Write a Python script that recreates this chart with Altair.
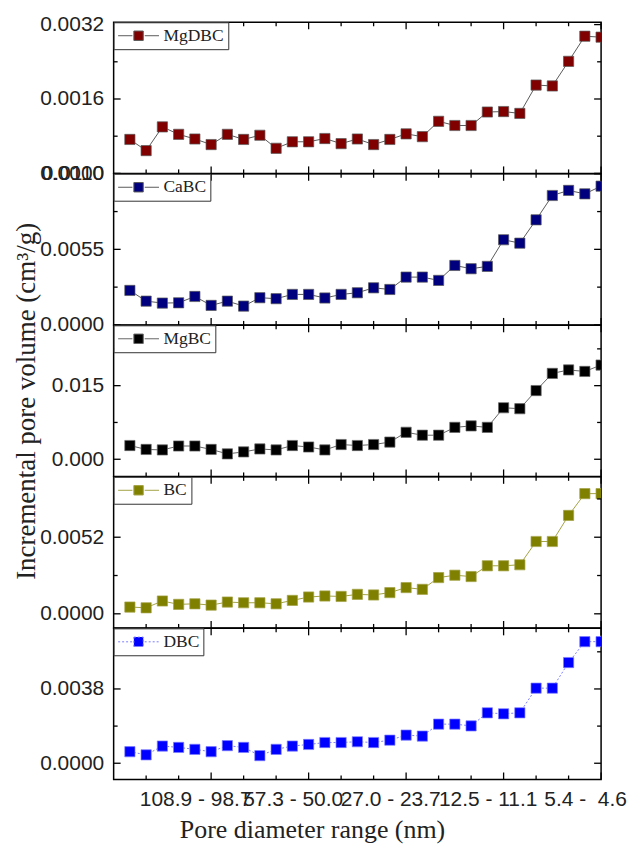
import altair as alt
import pandas as pd

# ---------------- data ----------------
x_index = list(range(1, 31))
samples = ["MgDBC", "CaBC", "MgBC", "BC", "DBC"]

mgdbc = [0.00073, 0.00049, 0.00100, 0.00084, 0.00074, 0.00062, 0.00084, 0.00073, 0.00082, 0.00054,
         0.00068, 0.00068, 0.00075, 0.00064, 0.00074, 0.00062, 0.00073, 0.00085, 0.00079, 0.00112,
         0.00103, 0.00103, 0.00132, 0.00133, 0.00129, 0.00190, 0.00188, 0.00241, 0.00295, 0.00293]
cabc = [0.00251, 0.00173, 0.00159, 0.00161, 0.00207, 0.00142, 0.00173, 0.00137, 0.00198, 0.00191,
        0.00222, 0.00222, 0.00196, 0.00222, 0.00234, 0.00270, 0.00258, 0.00348, 0.00348, 0.00324,
        0.00433, 0.00409, 0.00426, 0.00620, 0.00595, 0.00765, 0.00942, 0.00979, 0.00954, 0.01010]
mgbc = [0.0028, 0.0020, 0.0019, 0.0027, 0.0027, 0.0020, 0.0011, 0.0015, 0.0021, 0.0019,
        0.0028, 0.0025, 0.0019, 0.0030, 0.0028, 0.0030, 0.0035, 0.0055, 0.0049, 0.0049,
        0.0065, 0.0068, 0.0065, 0.0105, 0.0103, 0.0140, 0.0175, 0.0182, 0.0179, 0.0192]
bc = [0.00046, 0.00041, 0.00087, 0.00064, 0.00068, 0.00059, 0.00080, 0.00075, 0.00075, 0.00068,
      0.00091, 0.00114, 0.00121, 0.00118, 0.00132, 0.00128, 0.00144, 0.00178, 0.00166, 0.00246,
      0.00262, 0.00253, 0.00326, 0.00326, 0.00333, 0.00491, 0.00491, 0.00668, 0.00816, 0.00816]
dbc = [0.00059, 0.00043, 0.00088, 0.00081, 0.00071, 0.00059, 0.00090, 0.00081, 0.00039, 0.00071,
       0.00088, 0.00096, 0.00106, 0.00106, 0.00110, 0.00106, 0.00118, 0.00144, 0.00139, 0.00200,
       0.00200, 0.00191, 0.00258, 0.00253, 0.00258, 0.00384, 0.00384, 0.00515, 0.00622, 0.00622]

x_tick_labels = ["108.9 - 98.7", "57.3 - 50.0", "27.0 - 23.7", "12.5 - 11.1", "5.4 -\u00a0\u00a04.6"]
x_major = [6, 12, 18, 24, 30]
x_minor = [2, 4, 8, 10, 14, 16, 20, 22, 26, 28]

y_domains = [[0, 0.00325], [0, 0.011], [-0.0035, 0.0273], [-0.00096, 0.0093], [-0.00083, 0.0069]]
y_major = [[0, 0.0016, 0.0032], [0, 0.0055, 0.011], [0, 0.015], [0, 0.0052], [0, 0.0038]]
y_minor = [[0.0008, 0.0024], [0.00275, 0.00825], [0.0075, 0.0225], [0.0026, 0.0078], [0.0019, 0.0057]]
y_formats = [".4f", ".4f", ".3f", ".4f", ".4f"]
series = [mgdbc, cabc, mgbc, bc, dbc]

# ---------------- style ----------------
W, H = 489, 151.6
point_colors = ["#800000", "#00007f", "#000000", "#808000", "#0000ff"]
line_colors = ["#5a5a5a", "#5a5a5a", "#666666", "#a3a346", "#7d7dff"]
line_dash = [None, None, None, None, [2, 2]]
SYMBOL = "M-1,0H-0.3M0.3,0H1M-0.23,-0.23H0.23V0.23H-0.23Z"
TICK_FONT = "Liberation Sans"
TITLE_FONT = "Liberation Serif"

xscale = alt.Scale(domain=[0, 30], nice=False, zero=False)
label_expr = "[" + ",".join("'" + s + "'" for s in x_tick_labels) + "][round(datum.value/6)-1]"


def panel(i):
    name = samples[i]
    df = pd.DataFrame({"idx": x_index, "v": series[i], "sample": name})
    yscale = alt.Scale(domain=y_domains[i], nice=False, zero=False)
    bottom = i == len(samples) - 1

    if bottom:
        xaxis = alt.Axis(values=x_major, labelExpr=label_expr, ticks=False, domain=False, grid=False,
                         labelFont=TICK_FONT, labelFontSize=21, labelColor="#222", labelPadding=9,
                         labelOffset=-16, labelFlush=False, labelOverlap=False,
                         title="Pore diameter range (nm)", titleFont=TITLE_FONT, titleFontSize=26,
                         titleFontWeight="normal", titleColor="#222", titleX=199, titleY=58,
                         titleAlign="center", titleBaseline="alphabetic")
    else:
        xaxis = None

    yaxis_kw = dict(values=y_major[i], format=y_formats[i], ticks=False, domain=False, grid=False,
                    labelFont=TICK_FONT, labelFontSize=21, labelColor="#222", labelPadding=10,
                    labelFlush=False, labelOverlap=False)
    if i == 2:
        yaxis = alt.Axis(title="Incremental pore volume (cm³/g)", titleFont=TITLE_FONT,
                         titleFontSize=27, titleFontWeight="normal", titleColor="#222",
                         titleX=-79, titleY=H / 2, titleAngle=270, titleAlign="center",
                         titleBaseline="alphabetic", **yaxis_kw)
    else:
        yaxis = alt.Axis(title=None, **yaxis_kw)

    base = alt.Chart(df).encode(
        x=alt.X("idx:Q", scale=xscale, axis=xaxis),
        y=alt.Y("v:Q", scale=yscale, axis=yaxis),
    )
    line_kw = dict(color=line_colors[i], strokeWidth=1, clip=True)
    if line_dash[i]:
        line_kw["strokeDash"] = line_dash[i]
    line = base.mark_line(**line_kw)

    leg_kw = dict(title=None, orient="top-left", offset=0, padding=4, strokeColor="#333",
                  fillColor="white", labelFont=TITLE_FONT, labelFontSize=17.5, labelColor="#222",
                  symbolType=SYMBOL, symbolSize=1681, symbolStrokeColor=line_colors[i],
                  symbolStrokeWidth=1, clipHeight=19, labelOffset=4, symbolOffset=0)
    if line_dash[i]:
        leg_kw["symbolDash"] = line_dash[i]
    pts = base.mark_square(size=105, filled=True, opacity=1, stroke=line_colors[i],
                           strokeWidth=0.7, clip=True).encode(
        color=alt.Color("sample:N", scale=alt.Scale(domain=[name], range=[point_colors[i]]),
                        legend=alt.Legend(**leg_kw))
    )

    # inward ticks (major / minor) on all four sides
    layers = [line, pts]
    for vals, ln in ((y_major[i], 7), (y_minor[i], 4)):
        tb = alt.Chart(pd.DataFrame({"idx": [15] * len(vals), "v": vals})).encode(
            y=alt.Y("v:Q", scale=yscale, axis=yaxis))
        layers.append(tb.mark_rule(color="black", strokeWidth=1.3).encode(
            x=alt.value(0), x2=alt.value(ln)))
        layers.append(tb.mark_rule(color="black", strokeWidth=1.3).encode(
            x=alt.value(W), x2=alt.value(W - ln)))
    for vals, ln in ((x_major, 7), (x_minor, 4)):
        tb = alt.Chart(pd.DataFrame({"idx": vals})).encode(
            x=alt.X("idx:Q", scale=xscale, axis=xaxis))
        layers.append(tb.mark_rule(color="black", strokeWidth=1.3).encode(
            y=alt.value(0), y2=alt.value(ln)))
        layers.append(tb.mark_rule(color="black", strokeWidth=1.3).encode(
            y=alt.value(H), y2=alt.value(H - ln)))

    return alt.layer(*layers).properties(width=W, height=H)


chart = alt.vconcat(*[panel(i) for i in range(5)], spacing=0, bounds="flush").resolve_scale(
    x="independent", y="independent", color="independent"
).properties(
    padding={"left": 12, "top": 11, "right": 2, "bottom": 2},
    background="white",
).configure_view(
    stroke="black", strokeWidth=1.5
)

chart.save("out.html", embed_options={"renderer": "svg", "actions": False})
